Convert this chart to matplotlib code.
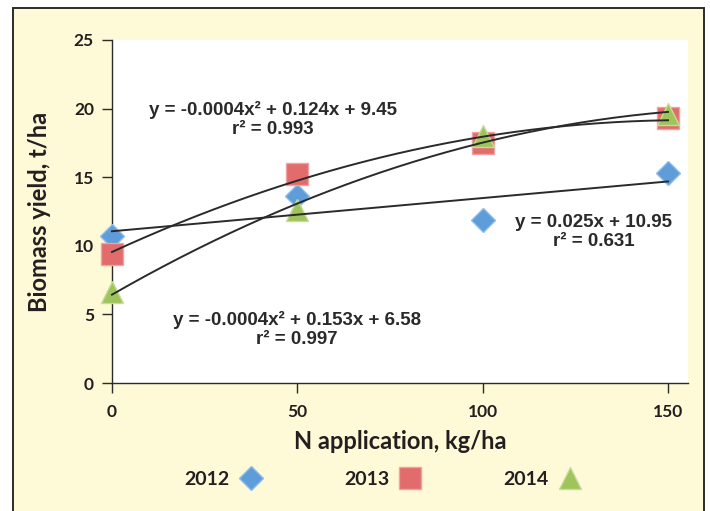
import numpy as np
import matplotlib
matplotlib.use("Agg")
import matplotlib.pyplot as plt
from matplotlib.lines import Line2D
from matplotlib.patches import Rectangle

# ---- data ----
n_rate = [0, 50, 100, 150]
y2012 = [10.7, 13.6, 11.9, 15.3]
y2013 = [9.4, 15.2, 17.5, 19.3]
y2014 = [6.6, 12.6, 18.0, 19.6]
years = ["2012", "2013", "2014"]
eq2012 = "y = 0.025x + 10.95\nr² = 0.631"
eq2013 = "y = -0.0004x² + 0.124x + 9.45\nr² = 0.993"
eq2014 = "y = -0.0004x² + 0.153x + 6.58\nr² = 0.997"
x_ticks = [0, 50, 100, 150]
y_ticks = [0, 5, 10, 15, 20, 25]

W, H = 710, 511
fig = plt.figure(figsize=(W / 100, H / 100), dpi=100)
fig.patch.set_facecolor("white")

# cream panel with dark frame
panel = Rectangle((13 / W, -0.01), (704 - 13) / W, 1 - 8 / H + 0.01,
                  transform=fig.transFigure, facecolor="#FEF9D6",
                  edgecolor="#2b2b2b", linewidth=1.4, zorder=-10)
fig.add_artist(panel)

ax = fig.add_axes([112 / W, 1 - 383 / H, (688 - 112) / W, (383 - 40) / H])
ax.set_zorder(1)
ax.set_facecolor("white")
ax.set_xlim(0, 155.4)
ax.set_ylim(0, 25)
for s in ["top", "right"]:
    ax.spines[s].set_visible(False)
for s in ["left", "bottom"]:
    ax.spines[s].set_color("#2b2b2b")
    ax.spines[s].set_linewidth(1.0)
ax.set_xticks(x_ticks)
ax.set_yticks(y_ticks)
tickfont = dict(family="Lato", weight="bold", size=12.5)
ax.set_xticklabels([str(t) for t in x_ticks], **tickfont, color="#231F20")
ax.set_yticklabels([str(t) for t in y_ticks], **tickfont, color="#231F20")
ax.tick_params(axis="x", direction="out", length=7, width=1.0, color="#2b2b2b", pad=8)
ax.tick_params(axis="y", direction="out", length=7, width=1.0, color="#2b2b2b", pad=6)

labfont = dict(family="Lato", weight="bold", size=17, color="#231F20")
ax.set_xlabel("N application, kg/ha", labelpad=7, **labfont)
ax.set_ylabel("Biomass yield, t/ha", labelpad=16, **labfont)

styles = {
    "2012": dict(marker="D", ms=12, mfc="#5E9CDA", mec="#8FBCE9"),
    "2013": dict(marker="s", ms=16, mfc="#E26B6B", mec="#F0A2A2"),
    "2014": dict(marker="^", ms=15.5, mfc="#9FC45B", mec="#C5DD98"),
}
series = {"2012": y2012, "2013": y2013, "2014": y2014}
xs = np.array(n_rate, dtype=float)
xx = np.linspace(0, 150, 200)
for yr in years:
    ax.plot(n_rate, series[yr], linestyle="none", mew=1, clip_on=False, zorder=3, **styles[yr])

# trendlines
deg = {"2012": 1, "2013": 2, "2014": 2}
for yr in years:
    c = np.polyfit(xs, np.array(series[yr]), deg[yr])
    ax.plot(xx, np.polyval(c, xx), color="#2a2a2a", lw=1.4, zorder=4, clip_on=False)

eqfont = dict(family=["Liberation Sans Narrow", "Liberation Sans"], weight="bold", size=13.5,
              color="#2a2a2a", ha="center", va="center", linespacing=1.2, zorder=5)
ax.text(43.5, 19.2, eq2013, **eqfont)
ax.text(49.8, 3.9, eq2014, **eqfont)
ax.text(130, 11.0, eq2012, **eqfont)

handles = [Line2D([], [], linestyle="none", mew=1, **styles[yr]) for yr in years]
leg = fig.legend(handles, years, loc="center", bbox_to_anchor=(383 / W, 1 - 479 / H),
                 ncol=3, frameon=False, markerfirst=False, handlelength=1.2,
                 handletextpad=0.5, columnspacing=4.2,
                 prop=dict(family="Lato", weight="bold", size=14))
for t in leg.get_texts():
    t.set_color("#231F20")

fig.savefig("out.png", dpi=100, facecolor=fig.get_facecolor())
